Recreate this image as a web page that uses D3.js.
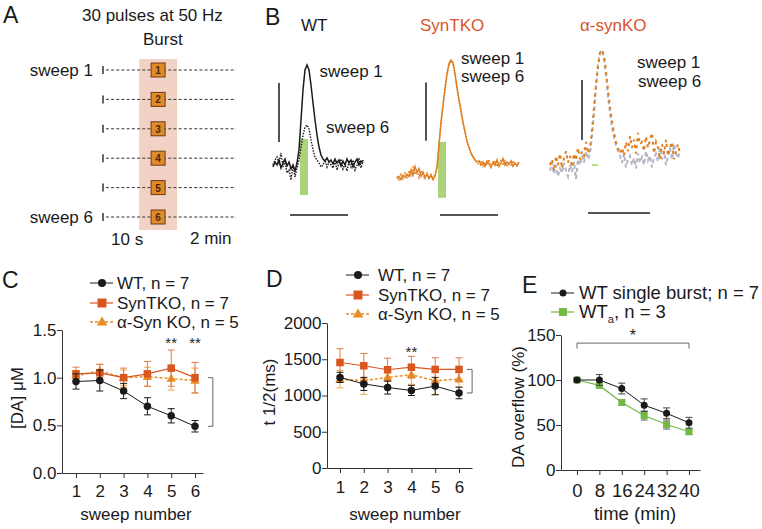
<!DOCTYPE html>
<html><head><meta charset="utf-8">
<script src="https://cdn.jsdelivr.net/npm/d3@7"></script>
<style>
body{margin:0;background:#fff;}
svg{font-family:"Liberation Sans",Arial,sans-serif;}
</style></head><body>
<svg id="fig" width="762" height="529"></svg>
<script>
// ---------------- DATA ----------------
const sweeps = [1,2,3,4,5,6];
const sweepTicks = ["1","2","3","4","5","6"];

// Panel C: [DA] uM
const cWT = [0.96,0.97,0.86,0.70,0.60,0.49];
const cWTerr = [0.08,0.11,0.08,0.09,0.075,0.06];
const cSyn = [1.04,1.05,1.00,1.04,1.10,1.00];
const cSynErr = [0.07,0.09,0.10,0.13,0.19,0.16];
const cAlpha = [1.02,1.07,1.00,1.01,0.99,0.97];
const cAlphaErr = [0.05,0.07,0.08,0.10,0.12,0.13];
const cTicks = [0,0.5,1.0,1.5];

// Panel D: t1/2 (ms)
const dWT = [1250,1160,1110,1070,1130,1035];
const dWTerr = [70,90,90,70,120,80];
const dSyn = [1455,1410,1355,1390,1360,1360];
const dSynErr = [190,170,160,150,160,160];
const dAlpha = [1225,1205,1250,1285,1205,1225];
const dAlphaErr = [120,190,150,130,190,110];
const dTicks = [0,500,1000,1500,2000];

// Panel E: DA overflow (%)
const eTime = [0,8,16,24,32,40];
const eWT = [100,100,90.5,72,63,52.5];
const eWTerr = [2,6,6,7,6,6];
const eWTa = [100,94,75,60.5,50.5,42.5];
const eWTaErr = [1,3,3,5,5,3];
const eTicks = [0,50,100,150];

// Panel B traces (normalized: baseline 0, sweep-1 peak 1)
const wtSweep1 = [-0.02,0.03,0.0,0.05,-0.03,0.02,0.06,-0.01,0.03,-0.04,0.0,-0.06,0.02,
  0.15,0.45,0.75,0.95,1.0,0.95,0.8,0.62,0.45,0.3,0.18,0.1,0.06,
  0.04,0.07,0.03,0.05,0.01,0.06,0.02,0.05,-0.01,0.04,0.0,0.06,0.02,0.05,-0.02,0.03,0.06,0.0,0.04,0.02];
const wtSweep6 = [0.0,0.05,0.08,0.02,0.12,-0.02,0.04,-0.08,-0.05,-0.15,0.0,-0.12,-0.03,
  0.05,0.18,0.3,0.38,0.4,0.36,0.25,0.15,0.08,0.05,0.02,-0.02,0.0,
  0.05,-0.02,0.03,0.0,-0.03,0.04,-0.05,0.02,0.06,-0.04,0.01,-0.06,0.03,-0.02,0.05,-0.05,0.0,0.07,-0.03,0.05];
const synSweep1 = [-0.06,-0.04,-0.07,-0.03,-0.05,-0.02,-0.04,0.02,-0.03,0.05,-0.01,0.03,-0.04,0.0,-0.05,-0.02,-0.06,-0.03,-0.07,-0.04,
  0.05,0.25,0.45,0.6,0.75,0.88,0.97,1.0,0.98,0.88,0.76,0.65,0.55,0.45,0.36,0.28,0.22,0.17,0.14,0.11,0.09,
  0.1,0.06,0.09,0.05,0.1,0.07,0.04,0.09,0.06,0.11,0.05,0.08,0.12,0.06,0.09,0.07,0.1,0.05,0.08,0.06,0.09];
const synSweep6 = [-0.04,-0.07,-0.02,-0.06,-0.01,-0.05,0.01,-0.03,0.04,-0.02,0.02,-0.05,0.01,-0.03,-0.06,-0.01,-0.05,-0.02,-0.06,-0.02,
  0.03,0.22,0.42,0.58,0.72,0.86,0.95,0.99,0.96,0.86,0.74,0.63,0.53,0.43,0.35,0.27,0.21,0.16,0.13,0.1,0.08,
  0.07,0.1,0.05,0.08,0.06,0.11,0.05,0.07,0.1,0.05,0.08,0.11,0.06,0.1,0.05,0.08,0.06,0.1,0.07,0.05,0.08];
const akoSweep1 = [0.0,0.05,-0.05,0.08,0.0,0.1,-0.03,0.06,0.12,0.02,0.08,-0.02,0.1,0.04,0.15,0.05,0.12,0.08,0.2,0.1,0.15,
  0.3,0.5,0.7,0.85,0.97,1.0,0.95,0.82,0.65,0.5,0.38,0.28,0.2,0.15,
  0.1,0.15,0.08,0.2,0.12,0.25,0.15,0.22,0.1,0.28,0.18,0.2,0.12,0.25,0.15,0.22,0.28,0.1,0.2,0.15,0.05,0.18,0.1,0.22,0.08,0.15,0.2,0.05,0.12,0.18,0.1];
const akoSweep6 = [-0.05,0.02,-0.08,0.0,-0.1,-0.03,-0.07,0.02,-0.05,-0.1,0.0,-0.06,0.03,-0.12,0.05,0.0,0.08,0.02,0.12,0.05,0.1,
  0.25,0.45,0.68,0.88,0.98,1.0,0.93,0.78,0.6,0.45,0.33,0.24,0.17,0.12,
  0.08,0.02,0.1,-0.02,0.05,0.08,0.0,0.06,-0.03,0.1,0.02,0.07,0.0,0.12,0.04,0.08,-0.02,0.06,0.1,0.03,0.15,0.05,0.12,0.0,0.08,0.15,0.05,0.18,0.1,0.06,0.12];

// ---------------- STYLE ----------------
const BLACK = "#1a1a1a", SYN = "#d9561f", ALPHA = "#ea8c22", GREEN = "#72b844", TRACE_OR = "#e07d1f";
const svg = d3.select("#fig");

function txt(x, y, s, size, opts = {}) {
  const t = svg.append("text").attr("x", x).attr("y", y).attr("font-size", size)
    .attr("fill", opts.fill || BLACK).attr("text-anchor", opts.anchor || "start").text(s);
  if (opts.transform) t.attr("transform", opts.transform);
  return t;
}

// ---------------- PANEL A ----------------
txt(3, 23, "A", 23);
txt(82, 20.5, "30 pulses at 50 Hz", 17);
txt(143, 45, "Burst", 17);
const aX = d3.scaleLinear().domain([-10, 130]).range([103, 236]); // seconds around burst
const aY = d3.scalePoint().domain(sweeps).range([70, 217]);
svg.append("rect").attr("x", aX(28)).attr("y", aY(1) - 11).attr("width", aX(68) - aX(28))
  .attr("height", aY(6) - aY(1) + 24).attr("fill", "#f3d2c6");
const rowsA = svg.append("g").selectAll("g").data(sweeps).join("g");
rowsA.append("line").attr("x1", aX(-10)).attr("x2", aX(-10)).attr("y1", d => aY(d) - 4).attr("y2", d => aY(d) + 4)
  .attr("stroke", "#333").attr("stroke-width", 1.5);
rowsA.append("line").attr("x1", aX(-7)).attr("x2", aX(130)).attr("y1", d => aY(d)).attr("y2", d => aY(d))
  .attr("stroke", "#333").attr("stroke-width", 1).attr("stroke-dasharray", "3,2.2");
rowsA.append("rect").attr("x", aX(48) - 7).attr("y", d => aY(d) - 7).attr("width", 14).attr("height", 14)
  .attr("fill", "#e08a28").attr("stroke", "#6a3a18").attr("stroke-width", 1);
rowsA.append("text").attr("x", aX(48)).attr("y", d => aY(d) + 4).attr("text-anchor", "middle")
  .attr("font-size", 10).attr("font-weight", "bold").attr("fill", "#4a2810").text(d => d);
txt(93, 76, "sweep 1", 17, {anchor: "end"});
txt(93, 223, "sweep 6", 17, {anchor: "end"});
txt(111, 245, "10 s", 17);
txt(190, 244, "2 min", 17);

// ---------------- PANEL B ----------------
txt(265, 25, "B", 23);
txt(301, 30.5, "WT", 17);
txt(420, 30.5, "SynTKO", 17, {fill: "#d9542a"});
txt(580, 30.5, "\u03b1-synKO", 17, {fill: "#d9542a"});

function tracePanel(cfg) {
  const x = d3.scaleLinear().domain([0, 1]).range([cfg.x0, cfg.x0 + 2]);
  const y = d3.scaleLinear().domain([0, 1]).range([cfg.base, cfg.peak]);
  const line = d3.line().x((d, i) => x(i)).y(d => y(d));
  const g = svg.append("g");
  if (cfg.stim) {
    g.append("rect").attr("x", x(cfg.stim[0])).attr("width", x(cfg.stim[1]) - x(cfg.stim[0]))
      .attr("y", y(cfg.stim[3])).attr("height", y(cfg.stim[2]) - y(cfg.stim[3]))
      .attr("fill", "#9fcb63").attr("opacity", 0.85);
  }
  cfg.traces.forEach(t => {
    g.append("path").datum(t.data).attr("d", line).attr("fill", "none")
      .attr("stroke", t.color).attr("stroke-width", t.w).attr("stroke-dasharray", t.dash || null);
  });
  if (cfg.greenTick) {
    g.append("line").attr("x1", x(cfg.greenTick[0])).attr("x2", x(cfg.greenTick[1]))
      .attr("y1", y(0)).attr("y2", y(0)).attr("stroke", "#9fd060").attr("stroke-width", 1.5);
  }
  // scale bars
  const v = cfg.vbar, h = cfg.hbar;
  g.append("line").attr("x1", x(v[0])).attr("x2", x(v[0])).attr("y1", y(v[1])).attr("y2", y(v[2]))
    .attr("stroke", BLACK).attr("stroke-width", 1.5);
  g.append("line").attr("x1", x(h[0])).attr("x2", x(h[1])).attr("y1", y(h[2])).attr("y2", y(h[2]))
    .attr("stroke", BLACK).attr("stroke-width", 1.5);
}

tracePanel({x0: 273, base: 165, peak: 65,
  stim: [13.5, 17.5, -0.3, 0.26],
  traces: [{data: wtSweep6, color: BLACK, w: 1.4, dash: "1.5,1.3"}, {data: wtSweep1, color: BLACK, w: 1.5}],
  vbar: [3, 0.23, 0.82], hbar: [8.5, 37.5, -0.5]});
tracePanel({x0: 397, base: 172, peak: 60,
  stim: [20.5, 24.5, -0.23, 0.27],
  traces: [{data: synSweep6, color: TRACE_OR, w: 1.4, dash: "1.5,1.3"}, {data: synSweep1, color: TRACE_OR, w: 1.4}],
  vbar: [14.5, 0.28, 0.8], hbar: [21.5, 50.5, -0.384]});
tracePanel({x0: 550, base: 165, peak: 50,
  traces: [{data: akoSweep6, color: "#b4b5c2", w: 2, dash: "4,3"}, {data: akoSweep1, color: TRACE_OR, w: 2, dash: "3,4"}],
  greenTick: [21, 24],
  vbar: [16, 0.217, 0.739], hbar: [19, 50, -0.417]});

txt(319.5, 77, "sweep 1", 17);
txt(326, 133, "sweep 6", 17);
txt(461, 63.5, "sweep 1", 17);
txt(461, 82, "sweep 6", 17);
txt(637, 68, "sweep 1", 17);
txt(638, 86.5, "sweep 6", 17);

// ---------------- helpers for line charts ----------------
function marker(g, shape, cx, cy, color, size) {
  if (shape === "circle") g.append("circle").attr("cx", cx).attr("cy", cy).attr("r", size / 2).attr("fill", color);
  else if (shape === "square") g.append("rect").attr("x", cx - size / 2).attr("y", cy - size / 2)
    .attr("width", size).attr("height", size).attr("fill", color);
  else g.append("path").attr("d", d3.symbol(d3.symbolTriangle, size * size * 0.6)())
    .attr("transform", `translate(${cx},${cy + 0.5})`).attr("fill", color);
}

function series(g, xs, ys, errs, x, y, o) {
  const line = d3.line().x((d, i) => x(xs[i])).y(d => y(d));
  const eb = g.append("g");
  ys.forEach((v, i) => {
    const cx = x(xs[i]);
    eb.append("line").attr("x1", cx).attr("x2", cx).attr("y1", y(v - errs[i])).attr("y2", y(v + errs[i]))
      .attr("stroke", o.ecolor || o.color).attr("stroke-width", 1);
    [v - errs[i], v + errs[i]].forEach(e => eb.append("line").attr("x1", cx - 3.5).attr("x2", cx + 3.5)
      .attr("y1", y(e)).attr("y2", y(e)).attr("stroke", o.ecolor || o.color).attr("stroke-width", 1));
  });
  g.append("path").datum(ys).attr("d", line).attr("fill", "none").attr("stroke", o.color)
    .attr("stroke-width", o.lw).attr("stroke-dasharray", o.dash || null);
  ys.forEach((v, i) => marker(g, o.shape, x(xs[i]), y(v), o.color, o.size));
}

function legend(items, lx, tx, ys, size) {
  items.forEach((it, i) => {
    const g = svg.append("g");
    g.append("line").attr("x1", lx - 12).attr("x2", lx + 11).attr("y1", ys[i]).attr("y2", ys[i])
      .attr("stroke", it.color).attr("stroke-width", it.lw).attr("stroke-dasharray", it.dash || null);
    marker(g, it.shape, lx, ys[i], it.color, it.size + 1);
    const t = txt(tx, ys[i] + 6, "", size);
    if (it.sub) {
      t.append("tspan").text(it.label[0]);
      t.append("tspan").attr("font-size", size * 0.6).attr("dy", 5).text(it.sub);
      t.append("tspan").attr("dy", -5).text(it.label[1]);
    } else t.text(it.label);
  });
}

function axes(x, y, xTicks, xLabels, yTicks, yFmt, axisY, axisX, fsX, fsY, xpad) {
  const gy = svg.append("g").attr("transform", `translate(${axisX},0)`)
    .call(d3.axisLeft(y).tickValues(yTicks).tickFormat(yFmt).tickSize(5).tickSizeOuter(0).tickPadding(0.5));
  const gx = svg.append("g").attr("transform", `translate(0,${axisY})`)
    .call(d3.axisBottom(x).tickValues(xTicks).tickFormat((d, i) => xLabels[i]).tickSize(5).tickSizeOuter(0).tickPadding(xpad));
  [gy, gx].forEach((g, k) => {
    g.selectAll("path,line").attr("stroke", "#333").attr("stroke-width", 1);
    g.selectAll("text").attr("font-size", k === 0 ? fsY : fsX).attr("fill", BLACK)
      .attr("font-family", "Liberation Sans, Arial, sans-serif");
  });
}

// ---------------- PANEL C ----------------
txt(2, 288, "C", 23);
const cx = d3.scaleLinear().domain([0.412, 6.336]).range([62, 203]);
const cy = d3.scaleLinear().domain([0, 1.5]).range([473, 330]);
axes(cx, cy, sweeps, sweepTicks, cTicks, d3.format(".1f"), 473, 62, 17, 17, 7);
const gC = svg.append("g");
series(gC, sweeps, cAlpha, cAlphaErr, cx, cy, {color: ALPHA, ecolor: "#f0a550", lw: 1.5, dash: "3,2", shape: "triangle", size: 8});
series(gC, sweeps, cSyn, cSynErr, cx, cy, {color: SYN, ecolor: "#e07a40", lw: 1.2, shape: "square", size: 7.5});
series(gC, sweeps, cWT, cWTerr, cx, cy, {color: BLACK, lw: 1, shape: "circle", size: 7.5});
txt(cx(5), 348, "**", 15, {anchor: "middle", fill: "#222"});
txt(cx(6), 348, "**", 15, {anchor: "middle", fill: "#222"});
svg.append("path").attr("d", `M${cx(6.55)},${cy(cSyn[5])}H${cx(6.75)}V${cy(cWT[5])}H${cx(6.55)}`)
  .attr("fill", "none").attr("stroke", "#666").attr("stroke-width", 1);
legend([
  {label: "WT, n = 7", color: BLACK, lw: 1, shape: "circle", size: 7},
  {label: "SynTKO, n = 7", color: SYN, lw: 1.2, shape: "square", size: 8},
  {label: "\u03b1-Syn KO, n = 5", color: ALPHA, lw: 1.5, dash: "3,2", shape: "triangle", size: 8}
], 102, 117, [283, 303, 322], 17);
txt(23, 398, "[DA] \u03bcM", 17, {anchor: "middle", transform: "rotate(-90,23,398)"});
txt(136, 520, "sweep number", 17, {anchor: "middle"});

// ---------------- PANEL D ----------------
txt(266, 287, "D", 23);
const dx = d3.scaleLinear().domain([0.454, 6.546]).range([327, 472]);
const dy = d3.scaleLinear().domain([0, 2000]).range([468, 323]);
axes(dx, dy, sweeps, sweepTicks, dTicks, d3.format("d"), 468, 327, 17, 17, 8);
const gD = svg.append("g");
series(gD, sweeps, dAlpha, dAlphaErr, dx, dy, {color: ALPHA, ecolor: "#f0a550", lw: 1.5, dash: "3,2", shape: "triangle", size: 8});
series(gD, sweeps, dSyn, dSynErr, dx, dy, {color: SYN, ecolor: "#e07a40", lw: 1.2, shape: "square", size: 7.5});
series(gD, sweeps, dWT, dWTerr, dx, dy, {color: BLACK, lw: 1, shape: "circle", size: 7.5});
txt(dx(4), 357, "**", 15, {anchor: "middle", fill: "#222"});
svg.append("path").attr("d", `M${dx(6.33)},${dy(dSyn[5])}H${dx(6.55)}V${dy(dWT[5])}H${dx(6.33)}`)
  .attr("fill", "none").attr("stroke", "#666").attr("stroke-width", 1);
legend([
  {label: "WT, n = 7", color: BLACK, lw: 1, shape: "circle", size: 7},
  {label: "SynTKO, n = 7", color: SYN, lw: 1.2, shape: "square", size: 8},
  {label: "\u03b1-Syn KO, n = 5", color: ALPHA, lw: 1.5, dash: "3,2", shape: "triangle", size: 8}
], 358, 378, [275, 295, 314], 17);
txt(275, 392, "t 1/2(ms)", 17, {anchor: "middle", transform: "rotate(-90,275,392)"});
txt(405, 520, "sweep number", 17, {anchor: "middle"});

// ---------------- PANEL E ----------------
txt(522, 293, "E", 23);
const ex = d3.scaleLinear().domain([-5.71, 43.93]).range([561, 700]);
const ey = d3.scaleLinear().domain([0, 150]).range([470, 335]);
axes(ex, ey, eTime, eTime.map(String), eTicks, d3.format("d"), 470, 561, 18.5, 17, 9);
const gE = svg.append("g");
series(gE, eTime, eWTa, eWTaErr, ex, ey, {color: GREEN, ecolor: "#666", lw: 1.2, shape: "square", size: 7});
series(gE, eTime, eWT, eWTerr, ex, ey, {color: BLACK, ecolor: "#444", lw: 1, shape: "circle", size: 7});
svg.append("path").attr("d", `M${ex(0)},${ey(135)}V${ey(141)}H${ex(40)}V${ey(135)}`)
  .attr("fill", "none").attr("stroke", "#666").attr("stroke-width", 1);
txt(ex(20), 341, "*", 16, {anchor: "middle"});
legend([
  {label: "WT single burst; n = 7", color: BLACK, lw: 1, shape: "circle", size: 6},
  {label: ["WT", ", n = 3"], sub: "a", color: GREEN, lw: 1.2, shape: "square", size: 7}
], 563, 579, [293, 312], 18.5);
txt(524, 407, "DA overflow (%)", 17, {anchor: "middle", transform: "rotate(-90,524,407)"});
txt(635, 520, "time (min)", 18.5, {anchor: "middle"});
</script>
</body></html>
